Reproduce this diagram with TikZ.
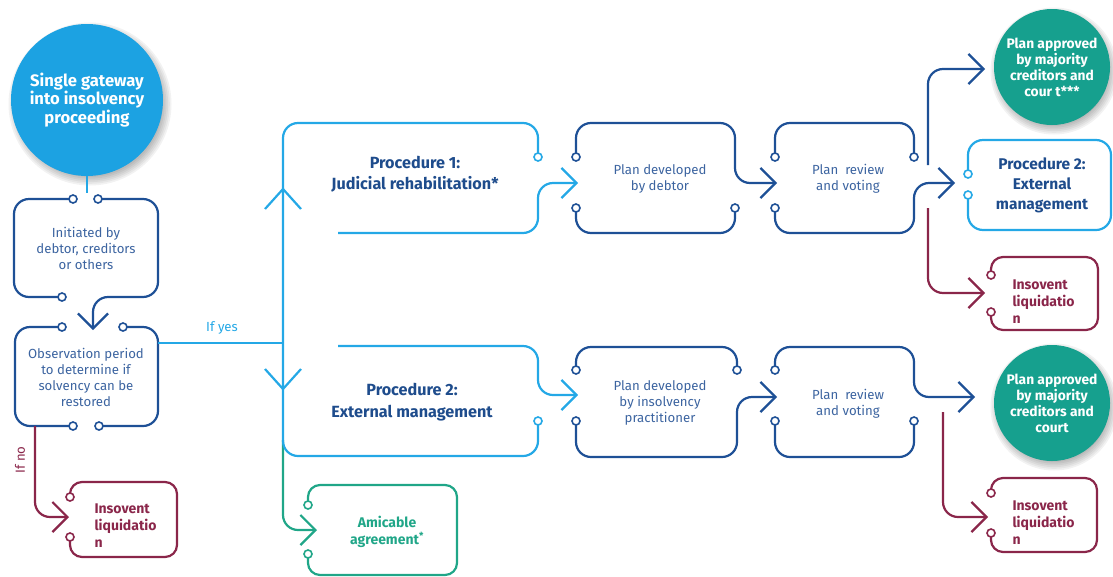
\documentclass[tikz,border=0pt]{standalone}
\usepackage{fontspec}
\setmainfont{Fira Sans}
\usetikzlibrary{arrows.meta,positioning,calc}
\definecolor{GateCyan}{RGB}{28,162,226}
\definecolor{LineCyan}{RGB}{36,168,230}
\definecolor{DeepBlue}{RGB}{30,80,150}
\definecolor{TextBlue}{RGB}{60,100,160}
\definecolor{HeadBlue}{RGB}{30,76,140}
\definecolor{Maroon}{RGB}{138,38,74}
\definecolor{Teal}{RGB}{22,160,142}
\definecolor{Mint}{RGB}{32,166,136}

\begin{document}
\begin{tikzpicture}[x=1pt,y=-1pt,
  wire/.style={line width=2.2pt,rounded corners=15pt},
  tip/.style={-{Straight Barb[length=15pt,width=30pt]}},
  pin/.style={line width=1.6pt,draw=#1,fill=white},
  plain/.style={align=center,text=TextBlue,font=\fontsize{13.2}{16}\selectfont},
  head/.style={align=center,text=HeadBlue,font=\bfseries\fontsize{16.2}{21.5}\selectfont},
  liq/.style={anchor=west,align=left,text=Maroon,font=\bfseries\fontsize{14}{17}\selectfont},
  bubble/.style={circle,inner sep=0pt,align=center,text=white},
]
\useasboundingbox (0,0) rectangle (1113,576);

\foreach \x/\y/\r in {90/104/76,1054/71/58,1054/407/58}
  \foreach \k in {0,...,5}
    \fill[black,opacity=.05] (\x,\y) circle ({\r-3+\k*1.7 pt});

\node[bubble,fill=GateCyan,minimum size=152pt,font=\bfseries\fontsize{16.6}{18.5}\selectfont] (gate) at (87,100) {Single gateway\\into insolvency\\proceeding};
\node[bubble,fill=Teal,minimum size=116pt,font=\bfseries\fontsize{13.8}{16}\selectfont] (ok1) at (1052,67) {Plan approved\\by majority\\creditors and\\cour t***};
\node[bubble,fill=Teal,minimum size=116pt,font=\bfseries\fontsize{13.8}{16}\selectfont] (ok2) at (1052,403) {Plan approved\\by majority\\creditors and\\court};

\node[plain] (init) at (86,248) {Initiated by\\debtor, creditors\\or others};
\node[plain] (obs) at (86,377) {Observation period\\to determine if\\solvency can be\\restored};
\node[liq] (liq1) at (91,525.5) {Insovent\\liquidatio\\n};
\node[head] (proc1) at (415,174) {Procedure 1:\\Judicial rehabilitation*};
\node[head] (proc2) at (412,402) {Procedure 2:\\External management};
\node[align=center,text=Mint,font=\bfseries\fontsize{14}{17}\selectfont] (amic) at (387,532) {Amicable\\agreement\textsuperscript{*}};
\node[plain] (pdd) at (660,179) {Plan developed\\by debtor};
\node[plain] (prv1) at (848,179) {Plan\ \ review\\and voting};
\node[plain] (pdp) at (660,403) {Plan developed\\by insolvency\\practitioner};
\node[plain] (prv2) at (848,404) {Plan\ \ review\\and voting};
\node[head,font=\bfseries\fontsize{15.5}{20}\selectfont] (ext) at (1042,185) {Procedure 2:\\External\\management};
\node[liq] (liq2) at (1009,301.5) {Insovent\\liquidatio\\n};
\node[liq] (liq3) at (1009,522.5) {Insovent\\liquidatio\\n};
\node[text=LineCyan,font=\fontsize{13.2}{16}\selectfont] (yes) at (222,328) {If yes};
\node[text=Maroon,font=\fontsize{13.2}{16}\selectfont,rotate=90] (no) at (20,460) {If no};

\coordinate (obsin) at (93,330);
\coordinate (liq1in) at (69,517);
\coordinate (amicin) at (317,530);
\coordinate (pddin) at (578,183);
\coordinate (pdpin) at (578,395);
\coordinate (prv1in) at (777,183);
\coordinate (prv2in) at (777,397);
\coordinate (extin) at (955,183);
\coordinate (ok1in) at (985,69);
\coordinate (ok2in) at (975,397);
\coordinate (liq2in) at (985,293);
\coordinate (liq3in) at (988,517);
\coordinate (fork) at (283,343);

\draw[line width=1.8pt,LineCyan] (gate.south) -- ++(0,17);
\draw[wire,DeepBlue] (73,199) -| (14,297) -- (62,297);
\draw[wire,DeepBlue,tip] (98,199) -| (158,297) -| (obsin);
\draw[wire,DeepBlue] (62,327) -| (15,426) -- (73,426);
\draw[wire,DeepBlue] (123,327) -| (158,426) -- (99,426);
\draw[line width=2pt,LineCyan] (158,343) -- (fork);
\draw[wire,Maroon,tip] (35,426) |- (liq1in);
\draw[wire,Maroon,rounded corners=12pt] (70,497) |- (177,482) |- (70,557) -- (70,537);

\draw[wire,Mint,tip] (283,440) |- (amicin);
\draw[wire,Mint,rounded corners=12pt] (308,505) |- (457,485) |- (308,575) -- (308,554);
\draw[wire,LineCyan] (538,421) |- (283,456) |- (538,123) -- (538,157);
\draw[wire,LineCyan,tip] (338,233) -| (538,183) -- (pddin);
\draw[wire,LineCyan,tip] (338,346) -| (538,395) -- (pdpin);
\draw[line width=2.2pt,LineCyan] (265,209) -- (283,189) -- (301,209);
\draw[line width=2.2pt,LineCyan] (265,369) -- (283,389) -- (301,369);

\draw[wire,DeepBlue,tip] (576,157) |- (735,123) |- (prv1in);
\draw[wire,DeepBlue] (576,208) |- (735,233) -- (735,208);
\draw[wire,DeepBlue] (775,157) |- (914,123) -- (914,157);
\draw[wire,DeepBlue,tip] (775,208) |- (914,233) |- (extin);
\draw[wire,DeepBlue,tip] (928,165) |- (ok1in);
\draw[wire,Maroon,tip] (928,208) |- (liq2in);
\draw[wire,LineCyan] (968,174) |- (1111,140) |- (968,230) -- (968,195);
\draw[wire,Maroon,rounded corners=12pt] (991,275) |- (1098,257) |- (991,330) -- (991,312);

\draw[wire,DeepBlue] (576,370) |- (737,347) -- (737,370);
\draw[wire,DeepBlue,tip] (576,421) |- (737,457) |- (prv2in);
\draw[wire,DeepBlue,tip] (775,370) |- (914,347) |- (ok2in);
\draw[wire,DeepBlue] (775,421) |- (914,457) -- (914,421);
\draw[wire,Maroon,tip] (943,412) |- (liq3in);
\draw[wire,Maroon,rounded corners=12pt] (991,493) |- (1097,478) |- (991,552) -- (991,533);

\foreach \p in {(73,199),(98,199),(62,297),(62,327),(123,327),(73,426),(99,426),(576,157),(576,208),(735,208),(775,157),(775,208),(914,157),(576,370),(737,370),(576,421),(775,370),(775,421),(914,421)}
  \path[pin=DeepBlue] \p circle (4pt);
\foreach \p in {(538,157),(538,421),(968,174),(968,195)}
  \path[pin=LineCyan] \p circle (4pt);
\foreach \p in {(70,497),(70,537),(991,275),(991,312),(991,493),(991,533)}
  \path[pin=Maroon] \p circle (4pt);
\foreach \p in {(308,505),(308,554)}
  \path[pin=Mint] \p circle (4pt);
\end{tikzpicture}
\end{document}
